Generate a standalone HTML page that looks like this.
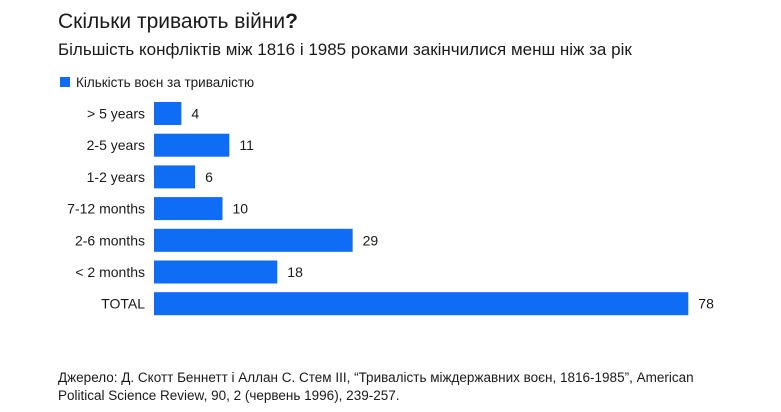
<!DOCTYPE html>
<html><head><meta charset="utf-8"><style>
body{margin:0;width:781px;height:412px;background:#fff;font-family:"Liberation Sans",Arial,sans-serif;color:#1a1a1a;position:relative;overflow:hidden}
.t{position:absolute;white-space:nowrap}
</style></head><body>
<div class="t" style="left:58px;top:10px;font-size:21px">Скільки тривають війни<b>?</b></div>
<div class="t" style="left:58px;top:40px;font-size:17px">Більшість конфліктів між 1816 і 1985 роками закінчилися менш ніж за рік</div>
<div class="t" style="left:60px;top:75px;font-size:13.5px"><span style="display:inline-block;width:10px;height:10px;background:#0f6cf5;margin-right:6px"></span>Кількість воєн за тривалістю</div>
<svg id="c" width="781" height="412" style="position:absolute;left:0;top:0"></svg>
<div class="t" style="left:58px;top:369px;font-size:13.5px;line-height:18px">Джерело: Д. Скотт Беннетт і Аллан С. Стем III, “Тривалість міждержавних воєн, 1816-1985”, American<br>Political Science Review, 90, 2 (червень 1996), 239-257.</div>
<script>
const categories=["> 5 years","2-5 years","1-2 years","7-12 months","2-6 months","< 2 months","TOTAL"];
const values=[4,11,6,10,29,18,78];
const x0=154,k=6.85,yTop=102,step=31.7,bh=23;
const x=v=>x0+v*k;
const svg=document.getElementById('c');
const ns="http://www.w3.org/2000/svg";
categories.forEach((c,i)=>{
 const yc=yTop+i*step+bh/2;
 const r=document.createElementNS(ns,'rect');
 
 
 r.setAttribute('x',x(0));r.setAttribute('y',yc-bh/2);r.setAttribute('width',x(values[i])-x(0));r.setAttribute('height',bh);r.setAttribute('fill','#0f6cf5');
 svg.appendChild(r);
 const l=document.createElementNS(ns,'text');
 
 
 l.setAttribute('x',145);l.setAttribute('y',yc+5);l.setAttribute('text-anchor','end');l.setAttribute('font-size','14');l.setAttribute('fill','#1a1a1a');
 l.textContent=c;svg.appendChild(l);
 const v=document.createElementNS(ns,'text');
 
 
 v.setAttribute('x',x(values[i])+10);v.setAttribute('y',yc+5);v.setAttribute('font-size','14');v.setAttribute('fill','#1a1a1a');
 v.textContent=values[i];svg.appendChild(v);
});
</script>
</body></html>
